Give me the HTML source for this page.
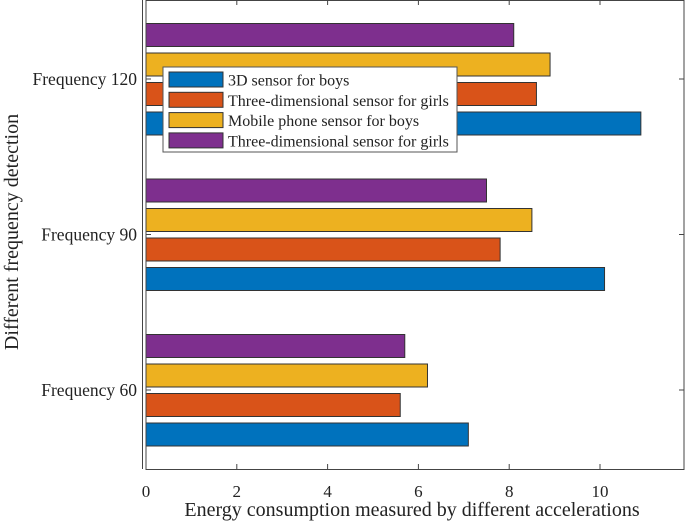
<!DOCTYPE html>
<html><head><meta charset="utf-8"><style>
body{margin:0;background:#fff}
svg text{font-family:"Liberation Serif",serif;fill:#222}
</style></head><body>
<svg id="chart" width="685" height="521">
<g id="bars"></g>
<g id="axes"></g>
</svg>
<script>
const categories=["Frequency 60","Frequency 90","Frequency 120"];
const seriesNames=["3D sensor for boys","Three-dimensional sensor for girls","Mobile phone sensor for boys","Three-dimensional sensor for girls"];
const blueVals=[7.1,10.1,10.9];
const orangeVals=[5.6,7.8,8.6];
const yellowVals=[6.2,8.5,8.9];
const purpleVals=[5.7,7.5,8.1];
const xTicks=[0,2,4,6,8,10];
const colors=["#0072BD","#D95319","#EDB120","#7E2F8E"];
const series=[blueVals,orangeVals,yellowVals,purpleVals];
const NS="http://www.w3.org/2000/svg";
const L=146,R=684,T=0,B=469;
const x=v=>L+v*45.4;
const yCat=i=>390-i*155.5;
const offs=[44.5,15,-14.5,-44];
const bars=document.getElementById('bars'),axes=document.getElementById('axes');
function mk(tag,attrs,parent){const e=document.createElementNS(NS,tag);for(const k in attrs)e.setAttribute(k,attrs[k]);parent.appendChild(e);return e;}
series.forEach((vals,s)=>vals.forEach((v,i)=>{
 const r=mk('rect',{x:x(0),y:yCat(i)+offs[s]-11.5,width:x(v)-x(0),height:23,fill:colors[s],stroke:'#333','stroke-width':1},bars);
 
 
}));
const box=mk('rect',{x:L,y:T+0.5,width:R-L,height:B-T,fill:'none',stroke:'#444','stroke-width':1},axes);

const ex=mk('line',{x1:142.5,x2:142.5,y1:0,y2:B,stroke:'#444'},axes);

xTicks.forEach(t=>{
 mk('line',{x1:x(t),x2:x(t),y1:B,y2:B-5,stroke:'#444'},axes);
 mk('line',{x1:x(t),x2:x(t),y1:T,y2:T+5,stroke:'#444'},axes);
 const tx=mk('text',{x:x(t),y:497,'text-anchor':'middle','font-size':17},axes);tx.textContent=t;
 
});
categories.forEach((c,i)=>{
 mk('line',{x1:L,x2:L+5,y1:yCat(i),y2:yCat(i),stroke:'#444'},axes);
 mk('line',{x1:R,x2:R-5,y1:yCat(i),y2:yCat(i),stroke:'#444'},axes);
 const tx=mk('text',{x:137,y:yCat(i)+6,'text-anchor':'end','font-size':17.5},axes);tx.textContent=c;
 
});
const xt=mk('text',{x:412,y:516,'text-anchor':'middle','font-size':20},axes);xt.textContent="Energy consumption measured by different accelerations";

const yt=mk('text',{x:0,y:0,'text-anchor':'middle','font-size':20,transform:'translate(18,232) rotate(-90)'},axes);yt.textContent="Different frequency detection";

const lg=mk('g',{},axes);

mk('rect',{x:163,y:67,width:294,height:85,fill:'#fff',stroke:'#555'},lg);
[0,1,2,3].forEach(s=>{
 const yy=72+s*20.3;
 const sw=mk('rect',{x:169,y:yy,width:54,height:15,fill:colors[s],stroke:'#333'},lg);
 
 const t=mk('text',{x:228,y:yy+13.5,'font-size':16},lg);t.textContent=seriesNames[s];
 
});
</script>
</body></html>
